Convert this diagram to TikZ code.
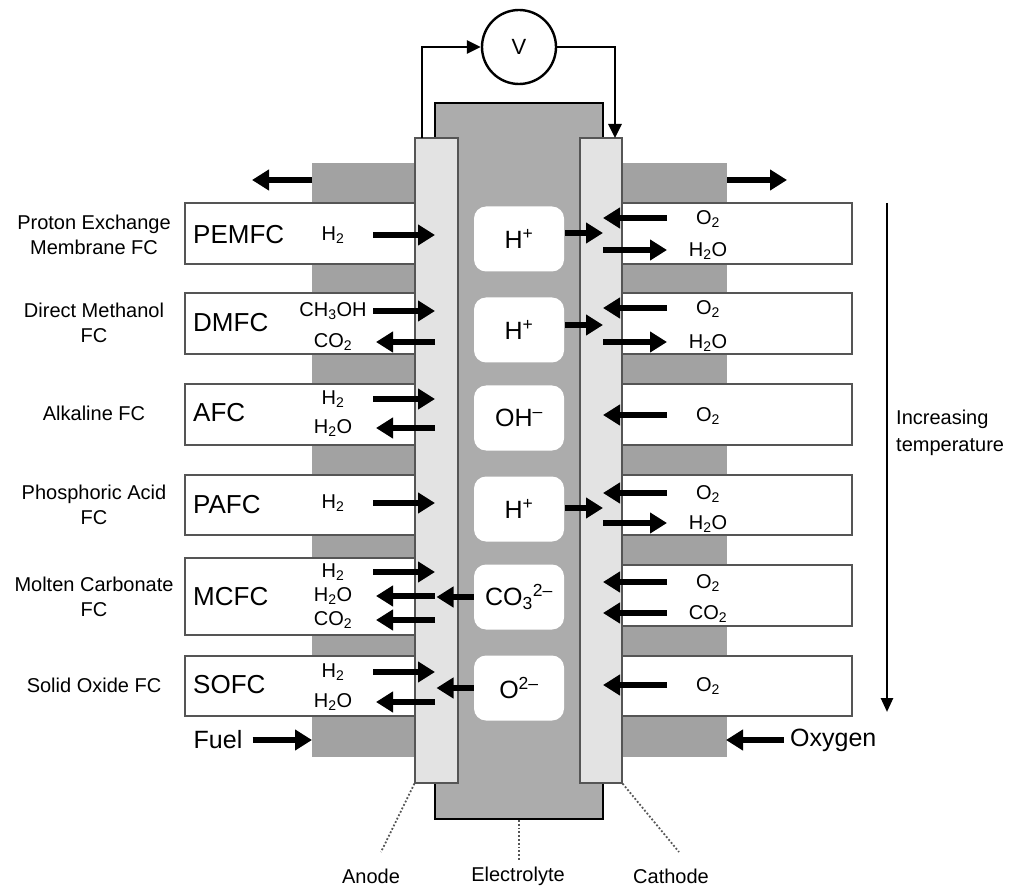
\documentclass[tikz,border=0pt]{standalone}
\usepackage{fontspec}
\setmainfont{Liberation Sans}
\usetikzlibrary{positioning,arrows.meta}
\definecolor{band}{HTML}{A2A2A2}
\definecolor{electro}{HTML}{ACACAC}
\definecolor{electrode}{HTML}{E3E3E3}
\definecolor{edge}{HTML}{555555}

\begin{document}
\begin{tikzpicture}[x=1pt,y=-1pt,
  every node/.style={font=\fontsize{20}{25}\selectfont,inner sep=0pt},
  flow/.style={line width=6.5pt,-{Triangle[length=17pt,width=20pt]}},
  wire/.style={line width=2.8pt,-{Triangle[length=14pt,width=13pt]}},
  cellbox/.style={draw=edge,line width=1.3pt,fill=white},
  ionbox/.style={fill=white,rounded corners=12pt,minimum width=90pt,minimum height=65pt,font=\fontsize{25}{28}\selectfont},
  fctype/.style={anchor=west,font=\fontsize{26}{30}\selectfont},
  lead/.style={dotted,line width=1.8pt,edge}]
\useasboundingbox (0,0) rectangle (1012,890);

% gas channels
\fill[band] (312,163) rectangle (415,757);
\fill[band] (622,163) rectangle (727,757);

% electrolyte and electrodes
\node[draw=black,line width=1.8pt,fill=electro,minimum width=168pt,minimum height=716pt] (electrolyte) at (519,461) {};
\node[draw=edge,line width=1.2pt,fill=electrode,minimum width=43pt,minimum height=645pt] (anode) at (436.5,460.5) {};
\node[draw=edge,line width=1.2pt,fill=electrode,minimum width=42pt,minimum height=645pt] (cathode) at (601,460.5) {};

% voltmeter
\node[draw,circle,line width=2.4pt,minimum size=74pt,font=\fontsize{22}{26}\selectfont] (volt) at (519,47) {V};
\coordinate (atop) at (422,138);
\coordinate (ctop) at (615,138);
\draw[wire] (atop) |- (volt.west);
\draw[wire] (volt.east) -| (ctop);

% cells, fuel side
\foreach \n/\yt/\yb/\yc/\fc/\desc in {
  pem/203/264/235/PEMFC/{Proton Exchange\\Membrane FC},
  dm/293/354/323/DMFC/{Direct Methanol\\FC},
  afc/384/445/413/AFC/{Alkaline FC},
  pa/475/535/505/PAFC/{Phosphoric Acid\\FC},
  mc/558/635/597/MCFC/{Molten Carbonate\\FC},
  so/656/716/685/SOFC/{Solid Oxide FC}}
{
  \draw[cellbox] (185,\yt) rectangle (415,\yb);
  \node[fctype] (type-\n) at (193,\yc) {\fc};
  \node[align=center] (desc-\n) at (94,\yc) {\desc};
}

% cells, oxidant side
\foreach \n/\yt/\yb in {pem/203/264, dm/293/354, afc/384/445, pa/475/535, mc/565/626, so/656/716}
  \draw[cellbox] (622,\yt) rectangle (852,\yb);

% mobile ions
\foreach \n/\y/\t in {pem/239/{H\textsuperscript{+}}, dm/330/{H\textsuperscript{+}},
  afc/418/{OH\textsuperscript{–}}, pa/509/{H\textsuperscript{+}},
  mc/597/{CO\textsubscript{3}\textsuperscript{2–}}, so/688/{O\textsuperscript{2–}}}
  \node[ionbox] (ion-\n) at (519,\y) {\t};

% species into the anode
\foreach \n/\y/\t in {pem/235/{H\textsubscript{2}}, dm/311/{CH\textsubscript{3}OH},
  afc/399/{H\textsubscript{2}}, pa/503/{H\textsubscript{2}}, mc/572/{H\textsubscript{2}}, so/672/{H\textsubscript{2}}}
{
  \node (fin-\n) at (333,\y) {\t};
  \coordinate (fa-\n) at (373,\y);
  \coordinate (fb-\n) at (435,\y);
  \draw[flow] (fa-\n) -- (fb-\n);
}

% species out of the anode
\foreach \n/\y/\t in {dm/342/{CO\textsubscript{2}}, afc/428/{H\textsubscript{2}O},
  mc/596/{H\textsubscript{2}O}, mcb/620/{CO\textsubscript{2}}, so/702/{H\textsubscript{2}O}}
{
  \node (fout-\n) at (333,\y) {\t};
  \coordinate (fc-\n) at (435,\y);
  \coordinate (fd-\n) at (376,\y);
  \draw[flow] (fc-\n) -- (fd-\n);
}

% protons to the cathode
\foreach \n/\y in {pem/233, dm/325, pa/508}
{
  \coordinate (pa-\n) at (565,\y);
  \coordinate (pb-\n) at (603,\y);
  \draw[flow] (pa-\n) -- (pb-\n);
}

% anions to the anode
\draw[flow] (ion-mc.west) -- (ion-mc.west -| anode);
\draw[flow] (ion-so.west) -- (ion-so.west -| anode);

% species into the cathode
\foreach \n/\y/\t in {pem/218/{O\textsubscript{2}}, dm/308/{O\textsubscript{2}},
  afc/415/{O\textsubscript{2}}, pa/493/{O\textsubscript{2}}, mc/582/{O\textsubscript{2}},
  mcb/613/{CO\textsubscript{2}}, so/685/{O\textsubscript{2}}}
{
  \node (oin-\n) at (708,\y+1) {\t};
  \coordinate (oa-\n) at (667,\y);
  \coordinate (ob-\n) at (603,\y);
  \draw[flow] (oa-\n) -- (ob-\n);
}

% water out of the cathode
\foreach \n/\y in {pem/250, dm/342, pa/523}
{
  \node (oout-\n) at (708,\y+1) {H\textsubscript{2}O};
  \coordinate (oc-\n) at (603,\y);
  \coordinate (od-\n) at (667,\y);
  \draw[flow] (oc-\n) -- (od-\n);
}

% exhaust
\coordinate (exL) at (312,180);
\coordinate (exLend) at (252,180);
\coordinate (exR) at (727,180);
\coordinate (exRend) at (787,180);
\draw[flow] (exL) -- (exLend);
\draw[flow] (exR) -- (exRend);

% feeds
\node[font=\fontsize{25}{30}\selectfont] (fuel) at (218,740) {Fuel};
\coordinate (fuelIn) at (312,740);
\draw[flow] ([xshift=10pt]fuel.east) -- (fuelIn);
\node[anchor=west,font=\fontsize{25}{30}\selectfont] (oxygen) at (790,740) {Oxygen};
\coordinate (oxIn) at (726,740);
\draw[flow] ([xshift=-6pt]oxygen.west) -- (oxIn);

% temperature trend
\coordinate (tTop) at (887,203);
\coordinate (tBot) at (887,712);
\draw[line width=2.6pt,-{Triangle[length=14pt,width=12pt]}] (tTop) -- (tBot);
\node[anchor=west,align=left,font=\fontsize{20}{27}\selectfont] (trend) at (896,433) {Increasing\\temperature};

% part labels
\node (lbl-anode) at (371,876) {Anode};
\node (lbl-electrolyte) at (518,876) {Electrolyte};
\node (lbl-cathode) at (671,876) {Cathode};
\coordinate (anodeEnd) at (381,852);
\coordinate (electroEnd) at (519,861);
\coordinate (cathodeEnd) at (679,852);
\draw[lead] (anode.south west) -- (anodeEnd);
\draw[lead] (electrolyte.south) -- (electroEnd);
\draw[lead] (cathode.south east) -- (cathodeEnd);
\end{tikzpicture}
\end{document}
